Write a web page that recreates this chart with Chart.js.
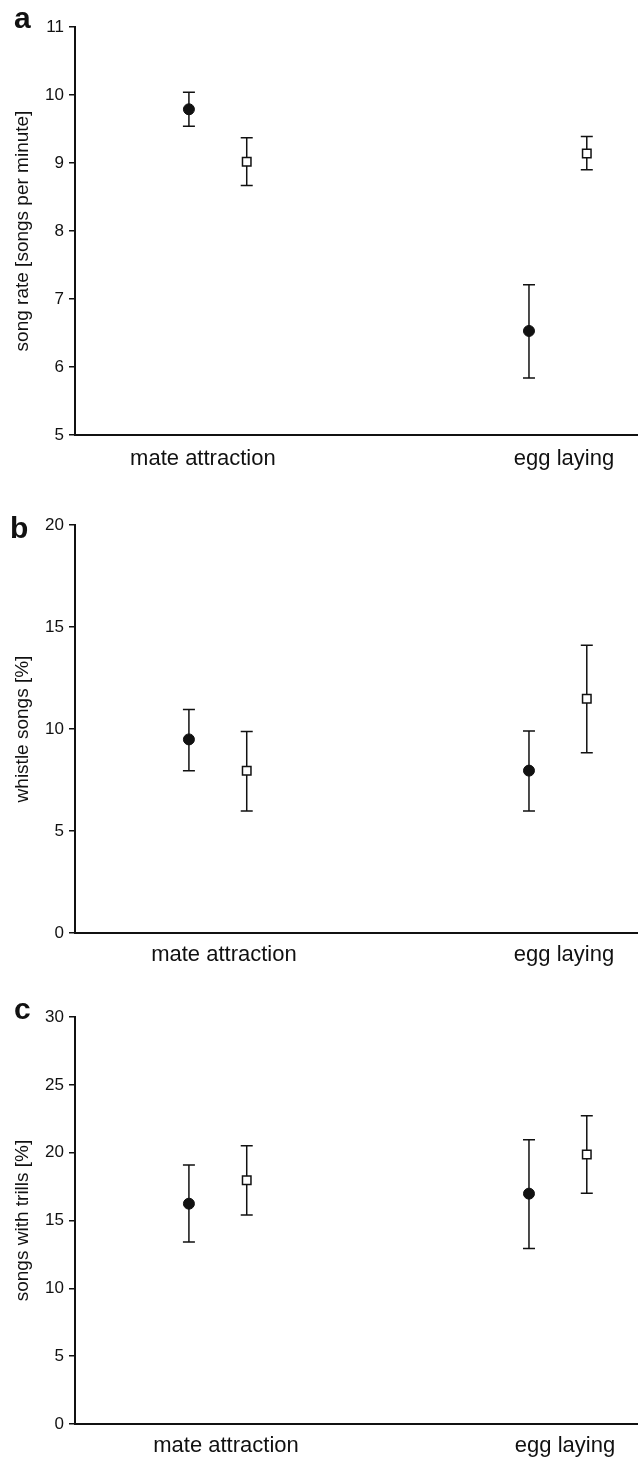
<!DOCTYPE html>
<html>
<head>
<meta charset="utf-8">
<script src="https://cdn.jsdelivr.net/npm/chart.js@4/dist/chart.umd.min.js"></script>
<style>
    body { margin: 0; background: #fff; width: 638px; height: 1459px; overflow: hidden; font-family: "Liberation Sans", Arial, sans-serif; }
    .panel { position: relative; width: 638px; }
    .letter { position: absolute; font-weight: bold; font-size: 30px; line-height: 1; color: #111; }
</style>
</head>
<body>
<div class="panel" style="height:475px"><span class="letter" style="left:14px;top:3px">a</span><canvas id="chartA"></canvas></div>
<div class="panel" style="height:498px"><span class="letter" style="left:10px;top:38px">b</span><canvas id="chartB"></canvas></div>
<div class="panel" style="height:486px"><span class="letter" style="left:14px;top:21px">c</span><canvas id="chartC"></canvas></div>

<script>
// --- DATA ---
const groups = ['mate attraction', 'egg laying'];

// a: song rate
const rateFilled = [9.79, 6.53];
const rateFilledLow = [9.54, 5.84];
const rateFilledHigh = [10.04, 7.21];
const rateOpen = [9.02, 9.14];
const rateOpenLow = [8.67, 8.90];
const rateOpenHigh = [9.37, 9.39];
const rateTicks = [5, 6, 7, 8, 9, 10, 11];

// b: whistle songs
const whistleFilled = [9.49, 7.96];
const whistleFilledLow = [7.95, 5.98];
const whistleFilledHigh = [10.96, 9.90];
const whistleOpen = [7.95, 11.48];
const whistleOpenLow = [5.98, 8.83];
const whistleOpenHigh = [9.88, 14.11];
const whistleTicks = [0, 5, 10, 15, 20];

// c: songs with trills
const trillFilled = [16.24, 16.98];
const trillFilledLow = [13.42, 12.93];
const trillFilledHigh = [19.09, 20.95];
const trillOpen = [17.96, 19.87];
const trillOpenLow = [15.41, 17.00];
const trillOpenHigh = [20.51, 22.72];
const trillTicks = [0, 5, 10, 15, 20, 25, 30];

// --- LAYOUT ---
const OPEN_OFFSET = 0.17;
const X_MIN = -0.335, X_MAX = 1.3206;
const INK = '#111';

// error bars drawn under the markers, using the chart's own scales
const errorBars = {
    id: 'errorBars',
    beforeDatasetsDraw(chart) {
        const ctx = chart.ctx;
        const y = chart.scales.y;
        ctx.save();
        ctx.strokeStyle = INK;
        ctx.lineWidth = 1.5;
        chart.data.datasets.forEach((ds, di) => {
            chart.getDatasetMeta(di).data.forEach((pt, i) => {
                const top = y.getPixelForValue(ds.high[i]);
                const bot = y.getPixelForValue(ds.low[i]);
                ctx.beginPath();
                ctx.moveTo(pt.x, top); ctx.lineTo(pt.x, bot);
                ctx.moveTo(pt.x - 6, top); ctx.lineTo(pt.x + 6, top);
                ctx.moveTo(pt.x - 6, bot); ctx.lineTo(pt.x + 6, bot);
                ctx.stroke();
            });
        });
        ctx.restore();
    }
};

function makePanel(id, p) {
    const toPoints = (vals, off) => vals.map((v, i) => ({ x: i + off, y: v }));
    new Chart(document.getElementById(id), {
        type: 'scatter',
        data: {
            datasets: [
                { data: toPoints(p.filled, 0), low: p.filledLow, high: p.filledHigh,
                  pointStyle: 'circle', pointRadius: 5.5, backgroundColor: INK, borderColor: INK, borderWidth: 1 },
                { data: toPoints(p.open, OPEN_OFFSET), low: p.openLow, high: p.openHigh,
                  pointStyle: 'rect', pointRadius: 6, backgroundColor: '#fff', borderColor: INK, borderWidth: 1.5 }
            ]
        },
        options: {
            responsive: true, maintainAspectRatio: false, animation: false,
            layout: { autoPadding: false, padding: { top: p.padTop, left: 0, right: 0, bottom: 0 } },
            plugins: { legend: { display: false }, tooltip: { enabled: false } },
            scales: {
                x: {
                    type: 'linear', min: X_MIN, max: X_MAX,
                    grid: { display: false, drawTicks: false },
                    border: { display: true, color: INK, width: 2 },
                    afterBuildTicks: s => { s.ticks = p.labelPos.map(v => ({ value: v })); },
                    afterFit: s => { s.height = p.xHeight; s.paddingLeft = 0; s.paddingRight = 0; },
                    ticks: {
                        maxRotation: 0, autoSkip: false, padding: p.xPad, color: INK,
                        font: { family: 'Liberation Sans', size: 22 },
                        callback: (v, i) => groups[i]
                    }
                },
                y: {
                    min: p.ticks[0], max: p.ticks[p.ticks.length - 1],
                    afterBuildTicks: s => { s.ticks = p.ticks.map(v => ({ value: v })); },
                    afterFit: s => { s.width = 75; },
                    grid: { drawOnChartArea: false, drawTicks: true, tickLength: 6, color: INK, lineWidth: 1.5 },
                    border: { display: true, color: INK, width: 2 },
                    ticks: { padding: 5, color: INK, font: { family: 'Liberation Sans', size: 17 } },
                    title: {
                        display: true, text: p.title, color: INK,
                        font: { family: 'Liberation Sans', size: 19 },
                        padding: { top: 11, bottom: 0 }
                    }
                }
            }
        },
        plugins: [errorBars]
    });
}

makePanel('chartA', {
    filled: rateFilled, filledLow: rateFilledLow, filledHigh: rateFilledHigh,
    open: rateOpen, openLow: rateOpenLow, openHigh: rateOpenHigh,
    ticks: rateTicks, title: 'song rate [songs per minute]',
    labelPos: [0.041, 1.103], padTop: 27, xHeight: 40, xPad: 11
});
makePanel('chartB', {
    filled: whistleFilled, filledLow: whistleFilledLow, filledHigh: whistleFilledHigh,
    open: whistleOpen, openLow: whistleOpenLow, openHigh: whistleOpenHigh,
    ticks: whistleTicks, title: 'whistle songs [%]',
    labelPos: [0.103, 1.103], padTop: 50, xHeight: 40, xPad: 9
});
makePanel('chartC', {
    filled: trillFilled, filledLow: trillFilledLow, filledHigh: trillFilledHigh,
    open: trillOpen, openLow: trillOpenLow, openHigh: trillOpenHigh,
    ticks: trillTicks, title: 'songs with trills [%]',
    labelPos: [0.109, 1.106], padTop: 44, xHeight: 35, xPad: 9
});
</script>
</body>
</html>
